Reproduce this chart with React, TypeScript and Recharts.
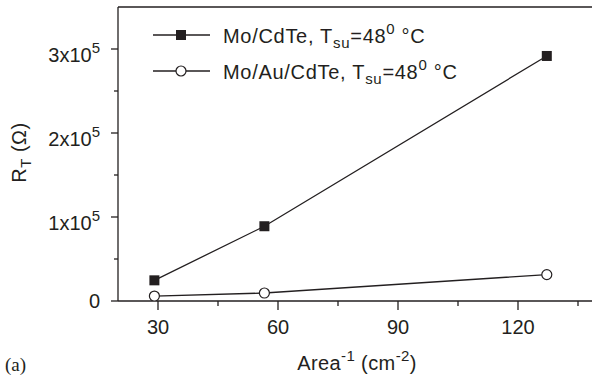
import { LineChart, Line, XAxis, YAxis, Legend, ReferenceLine } from "recharts";

const AREA_INV = [29.1, 56.6, 127.2];
const MO_CDTE = [24600, 89000, 291700];
const MO_AU_CDTE = [5900, 9500, 31400];
const SERIES_NAMES = ["Mo/CdTe", "Mo/Au/CdTe"];
const X_TICKS = [30, 45, 60, 75, 90, 105, 120, 135];
const X_MAJOR = [30, 60, 90, 120];
const Y_TICKS = [0, 50000, 100000, 150000, 200000, 250000, 300000];
const Y_MAJOR = [0, 100000, 200000, 300000];

const INK = "#231f20";
const FONT = "'Liberation Sans', Arial, Helvetica, sans-serif";

const data = AREA_INV.map((x, i) => ({
  x,
  moCdTe: MO_CDTE[i],
  moAuCdTe: MO_AU_CDTE[i],
}));

function XTick(props: any) {
  const { x, y, payload } = props;
  const major = X_MAJOR.includes(payload.value);
  return (
    <g>
      <line x1={x} x2={x} y1={y} y2={y + (major ? 9 : 5)} stroke={INK} strokeWidth={1.3} />
      {major && (
        <text x={x} y={y + 33} textAnchor="middle" fontSize={20} fill={INK} fontFamily={FONT}>
          {payload.value}
        </text>
      )}
    </g>
  );
}

function YTick(props: any) {
  const { x, y, payload } = props;
  const v = payload.value;
  const major = Y_MAJOR.includes(v);
  let label = null;
  if (major) {
    if (v === 0) {
      label = (
        <text x={x - 18} y={y + 7} textAnchor="end" fontSize={20} fill={INK} fontFamily={FONT}>
          0
        </text>
      );
    } else {
      label = (
        <text x={x - 18} y={y + 13} textAnchor="end" fontSize={20} fill={INK} fontFamily={FONT}>
          {v / 100000}x10
          <tspan dy={-9} fontSize={15}>5</tspan>
        </text>
      );
    }
  }
  return (
    <g>
      <line x1={x} x2={x - (major ? 7 : 4)} y1={y} y2={y} stroke={INK} strokeWidth={1.3} />
      {label}
    </g>
  );
}

// legend drawn by hand so the sub/superscripts come out right
function LegendBox() {
  const rows = [0, 1];
  return (
    <svg width={330} height={90} style={{ display: "block", overflow: "visible" }}>
      {rows.map((i) => {
        const cy = 23 + i * 36;
        return (
          <g key={i}>
            <line x1={3} x2={60} y1={cy} y2={cy} stroke={INK} strokeWidth={1.3} />
            {i === 0 ? (
              <rect x={26} y={cy - 5} width={10} height={10} fill={INK} />
            ) : (
              <circle cx={31} cy={cy} r={5} fill="#fff" stroke={INK} strokeWidth={1.2} />
            )}
            <text x={73} y={cy + 8} fontSize={20} letterSpacing={0.7} fill={INK} fontFamily={FONT}>
              {SERIES_NAMES[i]}, T
              <tspan dy={5} fontSize={15}>su</tspan>
              <tspan dy={-5}>=48</tspan>
              <tspan dy={-9} fontSize={15}>0</tspan>
              <tspan dy={9}> °C</tspan>
            </text>
          </g>
        );
      })}
    </svg>
  );
}

export default function App() {
  return (
    <div style={{ position: "absolute", left: 0, top: 0, width: 592, height: 378, background: "#fff", fontFamily: FONT }}>
      <LineChart width={592} height={378} data={data} margin={{ top: 7, right: 0, left: 0, bottom: 0 }}>
        <XAxis
          type="number"
          dataKey="x"
          domain={[20, 138.5]}
          ticks={X_TICKS}
          interval={0}
          tickSize={0}
          tickMargin={0}
          tick={<XTick />}
          height={77}
          allowDataOverflow
          axisLine={{ stroke: INK, strokeWidth: 1.3 }}
        />
        <YAxis
          type="number"
          domain={[0, 350000]}
          ticks={Y_TICKS}
          interval={0}
          tickSize={0}
          tickMargin={0}
          tick={<YTick />}
          width={118}
          allowDataOverflow
          axisLine={{ stroke: INK, strokeWidth: 1.3 }}
        />
        <ReferenceLine y={350000} stroke={INK} strokeWidth={1.3} ifOverflow="visible" />
        <Legend
          layout="vertical"
          align="center"
          verticalAlign="middle"
          content={() => <LegendBox />}
          wrapperStyle={{ position: "absolute", left: 150, top: 12, width: 330, height: 90 }}
        />
        <Line
          type="linear"
          dataKey="moCdTe"
          name={SERIES_NAMES[0]}
          stroke={INK}
          strokeWidth={1.3}
          isAnimationActive={false}
          dot={(p: any) => <rect key={p.index} x={p.cx - 5} y={p.cy - 5} width={10} height={10} fill={INK} />}
        />
        <Line
          type="linear"
          dataKey="moAuCdTe"
          name={SERIES_NAMES[1]}
          stroke={INK}
          strokeWidth={1.3}
          isAnimationActive={false}
          dot={(p: any) => <circle key={p.index} cx={p.cx} cy={p.cy} r={5} fill="#fff" stroke={INK} strokeWidth={1.2} />}
        />
      </LineChart>
      <svg width={592} height={378} style={{ position: "absolute", left: 0, top: 0, pointerEvents: "none" }}>
        <text transform="translate(26,152.5) rotate(-90)" textAnchor="middle" fontSize={20} letterSpacing={0.5} fill={INK} fontFamily={FONT}>
          R<tspan dy={5} fontSize={15}>T</tspan>
          <tspan dy={-5}> (Ω)</tspan>
        </text>
        <text x={357} y={370} textAnchor="middle" fontSize={20} letterSpacing={0.4} fill={INK} fontFamily={FONT}>
          Area<tspan dy={-9} fontSize={15}>-1</tspan>
          <tspan dy={9}> (cm</tspan>
          <tspan dy={-9} fontSize={15}>-2</tspan>
          <tspan dy={9}>)</tspan>
        </text>
        <text x={5} y={371} fontSize={19} fill={INK} fontFamily="'Liberation Serif', 'Times New Roman', serif">
          (a)
        </text>
      </svg>
    </div>
  );
}
